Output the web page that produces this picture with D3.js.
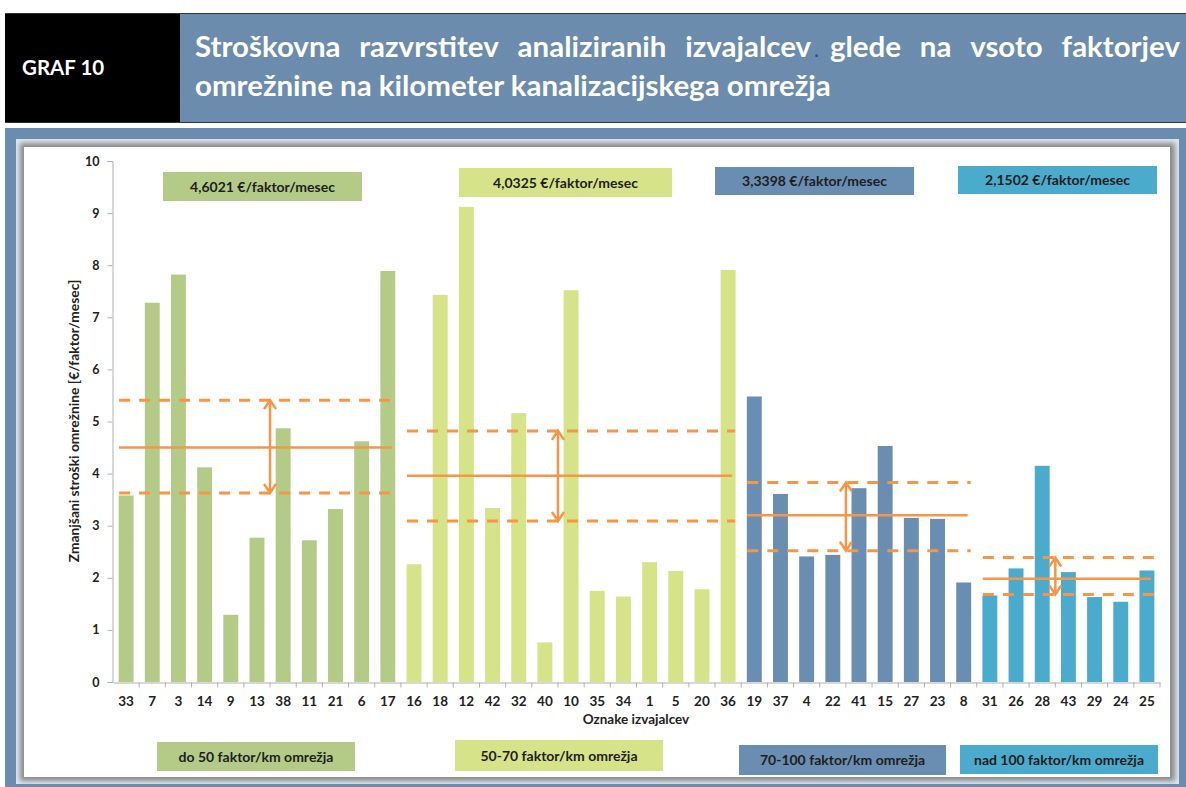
<!DOCTYPE html>
<html lang="sl">
<head>
<meta charset="utf-8">
<title>Graf 10</title>
<script src="https://d3js.org/d3.v7.min.js"></script>
<style>
  body { margin: 0; background: #fff; }
  svg text { font-family: Lato, "Open Sans", sans-serif; }
</style>
</head>
<body>
<div id="chart"></div>
<script>
// data
var categories = ["33","7","3","14","9","13","38","11","21","6","17",
  "16","18","12","42","32","40","10","35","34","1","5","20","36",
  "19","37","4","22","41","15","27","23","8",
  "31","26","28","43","29","24","25"];
var values = [3.58,7.28,7.82,4.12,1.29,2.77,4.87,2.72,3.32,4.62,7.89,
  2.26,7.43,9.12,3.34,5.16,0.76,7.52,1.75,1.64,2.30,2.13,1.78,7.91,
  5.48,3.61,2.41,2.44,3.72,4.53,3.15,3.13,1.91,
  1.66,2.18,4.15,2.11,1.63,1.54,2.14];
var groupSizes = [11, 13, 9, 7];
var groupNames = ["do 50 faktor/km omrežja", "50-70 faktor/km omrežja",
  "70-100 faktor/km omrežja", "nad 100 faktor/km omrežja"];
var groupPrices = ["4,6021 €/faktor/mesec", "4,0325 €/faktor/mesec",
  "3,3398 €/faktor/mesec", "2,1502 €/faktor/mesec"];
var groupMean = [4.50, 3.96, 3.20, 1.98];
var groupUpper = [5.41, 4.82, 3.83, 2.39];
var groupLower = [3.63, 3.09, 2.52, 1.68];
var arrowAfter = ["13", "40", "22", "28"];
var yTicks = [0,1,2,3,4,5,6,7,8,9,10];

var colors = ["#b4cb88", "#d7e388", "#6a8db2", "#4babcc"];
var orange = "#f79646";

var W = 1186, H = 787;
var svg = d3.select("#chart").append("svg")
  .attr("width", W).attr("height", H);

// ---- header ----
svg.append("rect").attr("x", 5).attr("y", 13).attr("width", 175).attr("height", 110)
  .attr("fill", "#000");
svg.append("rect").attr("x", 180).attr("y", 13).attr("width", 1006).attr("height", 110)
  .attr("fill", "#6b8cad");
svg.append("line").attr("x1", 5).attr("x2", 1186).attr("y1", 13.5).attr("y2", 13.5)
  .attr("stroke", "#333");
svg.append("line").attr("x1", 5).attr("x2", 1186).attr("y1", 122.5).attr("y2", 122.5)
  .attr("stroke", "#333");
svg.append("text").attr("x", 22).attr("y", 75).text("GRAF 10")
  .attr("fill", "#fff").attr("font-weight", "bold").attr("font-size", 20.5);

var titleWords = ["Stroškovna", "razvrstitev", "analiziranih", "izvajalcev", "glede", "na", "vsoto", "faktorjev"];
var line2 = "omrežnine na kilometer kanalizacijskega omrežja";
var t2 = svg.append("text").attr("x", 195).attr("y", 96).text(line2)
  .attr("fill", "#fff").attr("font-weight", "bold").attr("font-size", 22);
var fs = 22 * 636 / t2.node().getComputedTextLength();
t2.attr("font-size", fs);

var wordNodes = titleWords.map(function (w) {
  return svg.append("text").attr("y", 57).text(w)
    .attr("fill", "#fff").attr("font-weight", "bold").attr("font-size", fs);
});
var widths = wordNodes.map(function (n) { return n.node().getComputedTextLength(); });
var gap = (1180 - 195 - d3.sum(widths)) / (titleWords.length - 1);
var cx = 195;
wordNodes.forEach(function (n, i) {
  n.attr("x", cx);
  if (titleWords[i] === "izvajalcev") {
    svg.append("text").attr("x", cx + widths[i] + 3).attr("y", 57).text(".")
      .attr("fill", "#1f4e9a").attr("font-size", fs * 0.7);
  }
  cx += widths[i] + gap;
});

// ---- frame ----
svg.append("rect").attr("x", 5).attr("y", 128).attr("width", 1181).attr("height", 659)
  .attr("fill", "#6a8cae");
svg.append("rect").attr("x", 16).attr("y", 139).attr("width", 1163).attr("height", 645)
  .attr("fill", "#dbe6f0");
var defs = svg.append("defs");
var f = defs.append("filter").attr("id", "inshadow").attr("x", "-5%").attr("y", "-5%")
  .attr("width", "110%").attr("height", "110%");
f.append("feGaussianBlur").attr("stdDeviation", 2.5);
svg.append("rect").attr("x", 20).attr("y", 143).attr("width", 1155).attr("height", 638)
  .attr("fill", "#8a8a8a").attr("filter", "url(#inshadow)");
svg.append("rect").attr("x", 24).attr("y", 147).attr("width", 1146).attr("height", 630)
  .attr("fill", "#fff");

// ---- scales ----
var x = d3.scaleBand().domain(categories).range([113, 1160]).padding(0);
var y = d3.scaleLinear().domain([0, 10]).range([682, 161]);
var step = x.step();
var barW = step * 0.57;

var groupIndex = [];
groupSizes.forEach(function (n, g) { for (var i = 0; i < n; i++) groupIndex.push(g); });
var groupStart = [];
var acc = 0;
groupSizes.forEach(function (n) { groupStart.push(acc); acc += n; });

// axes
var yAxis = d3.axisLeft(y).tickValues(yTicks).tickSize(5).tickPadding(8);
var gy = svg.append("g").attr("transform", "translate(112.5,0)").call(yAxis);
gy.select(".domain").attr("stroke", "#b0b0b0");
gy.selectAll(".tick line").attr("stroke", "#b0b0b0");
gy.selectAll(".tick text").attr("font-size", 12.5).attr("font-weight", "bold")
  .attr("fill", "#222").attr("font-family", "Lato, sans-serif");

var xAxis = d3.axisBottom(x).tickSize(0).tickPadding(14);
var gx = svg.append("g").attr("transform", "translate(0,682.5)").call(xAxis);
gx.select(".domain").attr("stroke", "#b0b0b0");
gx.selectAll(".tick text").attr("font-size", 13.5).attr("font-weight", "bold")
  .attr("fill", "#222").attr("font-family", "Lato, sans-serif");
// tick marks between categories
gx.selectAll("line.sep").data(categories).enter().append("line").attr("class", "sep")
  .attr("x1", function (d) { return x(d) + step; }).attr("x2", function (d) { return x(d) + step; })
  .attr("y1", 0).attr("y2", 5).attr("stroke", "#b0b0b0");

// bars
svg.append("g").selectAll("rect").data(categories).enter().append("rect")
  .attr("x", function (d) { return x(d) + (step - barW) / 2; })
  .attr("width", barW)
  .attr("y", function (d, i) { return y(values[i]); })
  .attr("height", function (d, i) { return y(0) - y(values[i]); })
  .attr("fill", function (d, i) { return colors[groupIndex[i]]; });

// axis titles
svg.append("text").attr("transform", "translate(79,421) rotate(-90)")
  .attr("text-anchor", "middle").attr("font-size", 13.8).attr("font-weight", "bold")
  .attr("fill", "#222").text("Zmanjšani stroški omrežnine [€/faktor/mesec]");
svg.append("text").attr("x", 636).attr("y", 724).attr("text-anchor", "middle")
  .attr("font-size", 13.5).attr("font-weight", "bold").attr("fill", "#222")
  .text("Oznake izvajalcev");

// group mean / range lines
groupSizes.forEach(function (n, g) {
  var first = categories[groupStart[g]], last = categories[groupStart[g] + n - 1];
  var x1 = x(first) + step / 2 - 7, x2 = x(last) + step / 2 + 4;
  var lg = svg.append("g").attr("stroke", orange).attr("fill", "none");
  lg.append("line").attr("x1", x1).attr("x2", x2)
    .attr("y1", y(groupMean[g])).attr("y2", y(groupMean[g])).attr("stroke-width", 2.5);
  [groupUpper[g], groupLower[g]].forEach(function (v) {
    lg.append("line").attr("x1", x1).attr("x2", x2 + 3)
      .attr("y1", y(v)).attr("y2", y(v)).attr("stroke-width", 3)
      .attr("stroke-dasharray", "11,9");
  });
  var ax = x(arrowAfter[g]) + step;
  var yt = y(groupUpper[g]), yb = y(groupLower[g]);
  lg.append("path").attr("stroke-width", 2.5)
    .attr("d", "M" + ax + "," + yt + "V" + yb +
      "M" + (ax - 6) + "," + (yt + 9) + "L" + ax + "," + yt + "L" + (ax + 6) + "," + (yt + 9) +
      "M" + (ax - 6) + "," + (yb - 9) + "L" + ax + "," + yb + "L" + (ax + 6) + "," + (yb - 9));
});

// label boxes
var topBoxes = [[163, 172, 199, 29], [459, 168, 213, 29], [715, 167, 199, 28], [958, 166, 199, 28]];
var bottomBoxes = [[157, 742, 198, 29], [455, 740, 208, 31], [739, 745, 207, 30], [960, 745, 198, 29]];
function drawBox(b, g, label) {
  svg.append("rect").attr("x", b[0]).attr("y", b[1]).attr("width", b[2]).attr("height", b[3])
    .attr("fill", colors[g]);
  svg.append("text").attr("x", b[0] + b[2] / 2).attr("y", b[1] + b[3] / 2 + 5)
    .attr("text-anchor", "middle").attr("font-size", 14).attr("font-weight", "bold")
    .attr("fill", "#1e1e1e").text(label);
}
topBoxes.forEach(function (b, g) { drawBox(b, g, groupPrices[g]); });
bottomBoxes.forEach(function (b, g) { drawBox(b, g, groupNames[g]); });
</script>
</body>
</html>
